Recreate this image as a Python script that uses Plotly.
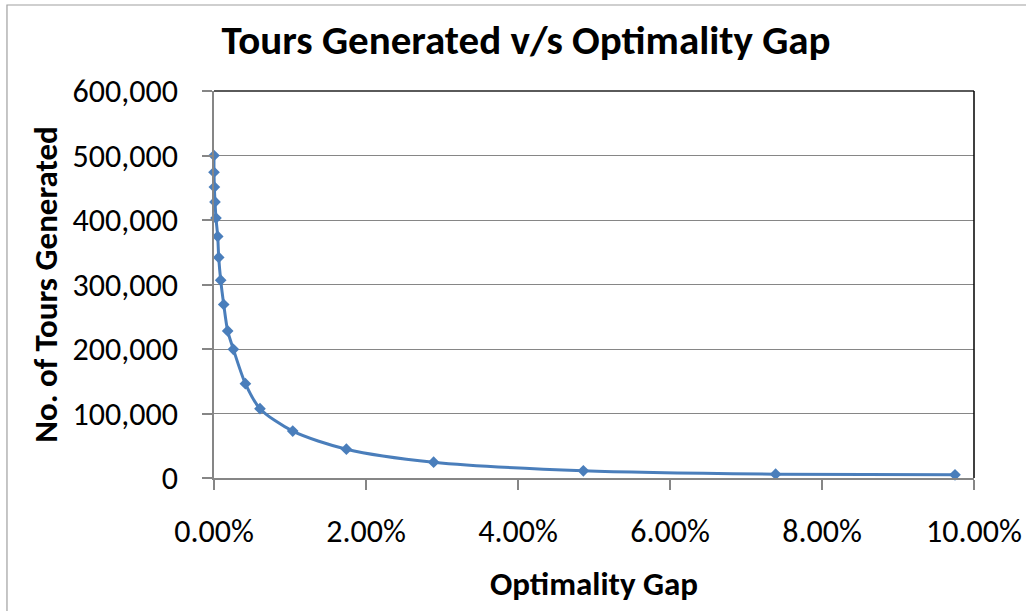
import plotly.graph_objects as go

# Data
optimality_gap = [0.0000, 0.0000, 0.00005, 0.00013, 0.00026, 0.00049, 0.00062, 0.00088,
                  0.00128, 0.0018, 0.00255, 0.00413, 0.00605, 0.01036, 0.01742,
                  0.0289, 0.0486, 0.0739, 0.0975]
tours_generated = [500000, 474000, 451000, 428000, 403000, 374500, 342000, 306700,
                   269000, 228000, 199500, 146300, 107500, 72700, 44700,
                   24500, 11200, 5900, 5000]

x_ticks = [0, 0.02, 0.04, 0.06, 0.08, 0.10]
y_ticks = [0, 100000, 200000, 300000, 400000, 500000, 600000]

title_text = "Tours Generated v/s Optimality Gap"
x_title = "Optimality Gap"
y_title = "No. of Tours Generated"

FONT = "Carlito, Lato, sans-serif"
BLUE = "#4a7ebb"
GRID = "#868686"

fig = go.Figure()
fig.add_trace(go.Scatter(
    x=optimality_gap, y=tours_generated, mode="lines+markers",
    line=dict(color=BLUE, width=3, shape="spline", smoothing=0.8),
    marker=dict(symbol="diamond", size=9, color=BLUE),
    showlegend=False, cliponaxis=False,
))

fig.update_layout(
    width=1026, height=611,
    margin=dict(l=214, r=52, t=91, b=133, autoexpand=False),
    paper_bgcolor="white", plot_bgcolor="white",
    font=dict(family=FONT, color="black"),
    title=dict(text=f"<b>{title_text}</b>", x=0.5127, xanchor="center", xref="container",
               y=0.935, yanchor="middle", yref="container", font=dict(size=41, family=FONT)),
    xaxis=dict(
        range=[0, 0.10], tickvals=x_ticks, tickformat=".2%",
        showgrid=False, zeroline=False, automargin=False,
        showline=True, linecolor=GRID, linewidth=1.5,
        ticks="outside", ticklen=10, tickcolor=GRID, tickwidth=1.5,
        tickfont=dict(size=32, family=FONT), ticklabelstandoff=14,
        title=dict(text=f"<b>{x_title}</b>", font=dict(size=33, family=FONT), standoff=22),
    ),
    yaxis=dict(
        range=[0, 600000], tickvals=y_ticks, tickformat=",",
        showgrid=True, gridcolor=GRID, gridwidth=1.2, zeroline=False, automargin=False,
        showline=True, linecolor=GRID, linewidth=1.5,
        ticks="outside", ticklen=10, tickcolor=GRID, tickwidth=1.5,
        tickfont=dict(size=32, family=FONT), ticklabelstandoff=18,
        title=dict(text=f"<b>{y_title}</b>", font=dict(size=33, family=FONT), standoff=5),
    ),
    shapes=[
        # plot area top and right border
        dict(type="line", xref="paper", yref="paper", x0=0, x1=1, y0=1, y1=1,
             line=dict(color="#5a5a5a", width=2)),
        dict(type="line", xref="paper", yref="paper", x0=1, x1=1, y0=0, y1=1,
             line=dict(color="black", width=1.5)),
        # outer chart border
        dict(type="rect", xref="paper", yref="paper", x0=-0.2724, x1=1.1, y0=-0.4, y1=1.2222,
             line=dict(color="#a0a0a0", width=1.2)),
    ],
)

fig.write_html("out.html", config={"displayModeBar": False},
               post_script="document.body.style.margin='0px';")
